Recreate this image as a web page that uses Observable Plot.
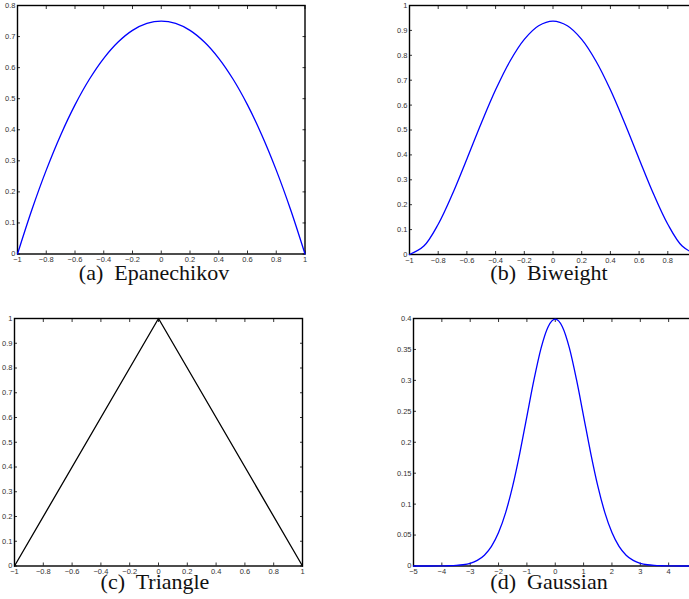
<!DOCTYPE html>
<html><head><meta charset="utf-8">
<script src="https://cdn.jsdelivr.net/npm/d3@7"></script>
<script src="https://cdn.jsdelivr.net/npm/@observablehq/plot@0.6"></script>
<style>
html,body{margin:0;padding:0;background:#fff;overflow:hidden;}
#root{position:relative;width:720px;height:599px;overflow:hidden;}
.panel{position:absolute;}
.panel svg{max-width:none;display:block;}
.title{position:absolute;font-family:'Liberation Serif','Times New Roman',Times,'DejaVu Serif',serif;font-size:22px;line-height:1;color:#111;white-space:pre;transform:translateX(-50%);}
</style></head><body><div id="root"></div>
<script>
// ---- data ----
const epanX = [-1,-0.9,-0.8,-0.7,-0.6,-0.5,-0.4,-0.3,-0.2,-0.1,0,0.1,0.2,0.3,0.4,0.5,0.6,0.7,0.8,0.9,1];
const epanY = [0,0.1425,0.27,0.3825,0.48,0.5625,0.63,0.6825,0.72,0.7425,0.75,0.7425,0.72,0.6825,0.63,0.5625,0.48,0.3825,0.27,0.1425,0];

const biwX = [-1,-0.9,-0.8,-0.7,-0.6,-0.5,-0.4,-0.3,-0.2,-0.1,0,0.1,0.2,0.3,0.4,0.5,0.6,0.7,0.8,0.9,1];
const biwY = [0,0.0338,0.1215,0.2438,0.384,0.5273,0.6615,0.7763,0.864,0.9188,0.9375,0.9188,0.864,0.7763,0.6615,0.5273,0.384,0.2438,0.1215,0.0338,0];

const triX = [-1,0,1];
const triY = [0,1,0];

const gauX = [-5,-4.5,-4,-3.75,-3.5,-3.25,-3,-2.75,-2.5,-2.25,-2,-1.75,-1.5,-1.25,-1,-0.75,-0.5,-0.25,0,0.25,0.5,0.75,1,1.25,1.5,1.75,2,2.25,2.5,2.75,3,3.25,3.5,3.75,4,4.5,5];
const gauY = [0,0,0.0001,0.0004,0.0009,0.002,0.0044,0.0091,0.0175,0.0317,0.054,0.0863,0.1295,0.1826,0.242,0.3011,0.3521,0.3867,0.3989,0.3867,0.3521,0.3011,0.242,0.1826,0.1295,0.0863,0.054,0.0317,0.0175,0.0091,0.0044,0.002,0.0009,0.0004,0.0001,0,0];

const ticksUnit = [-1,-0.8,-0.6,-0.4,-0.2,0,0.2,0.4,0.6,0.8,1];
const ticksGauX = [-5,-4,-3,-2,-1,0,1,2,3,4,5];
const ticksY08 = [0,0.1,0.2,0.3,0.4,0.5,0.6,0.7,0.8];
const ticksY1 = [0,0.1,0.2,0.3,0.4,0.5,0.6,0.7,0.8,0.9,1];
const ticksY04 = [0,0.05,0.1,0.15,0.2,0.25,0.3,0.35,0.4];

const titles = ["(a)  Epanechikov","(b)  Biweight","(c)  Triangle","(d)  Gaussian"];

// ---- layout ----
const root = document.getElementById("root");
const fmt = d3.format("");
const mL = 30, mR = 15, mT = 8, mB = 22;

function panel(o){
  const w = o.fr - o.fl, h = o.fb - o.ft;
  const chart = Plot.plot({
    width: w + mL + mR, height: h + mT + mB,
    marginLeft: mL, marginRight: mR, marginTop: mT, marginBottom: mB,
    x: {domain: o.xd}, y: {domain: o.yd},
    style: {background: "transparent"},
    marks: [
      Plot.axisX(o.xt, {anchor: "bottom", tickSize: -3, tickFormat: () => "", label: null, strokeWidth: 0.8}),
      Plot.axisX(o.xt, {anchor: "top", tickSize: -3, tickFormat: () => "", label: null, strokeWidth: 0.8}),
      Plot.axisY(o.yt, {anchor: "left", tickSize: -3, tickFormat: () => "", label: null, strokeWidth: 0.8}),
      Plot.axisY(o.yt, {anchor: "right", tickSize: -3, tickFormat: () => "", label: null, strokeWidth: 0.8}),
      Plot.axisX(o.xt, {anchor: "bottom", tickSize: 0, tickPadding: 3, tickFormat: fmt, label: null, fontSize: 7.5, fill: "#333", fontFamily: "Liberation Sans, Arial, sans-serif"}),
      Plot.axisY(o.yt, {anchor: "left", tickSize: 0, tickPadding: 2, tickFormat: fmt, label: null, fontSize: 7.5, fill: "#333", fontFamily: "Liberation Sans, Arial, sans-serif"}),
      Plot.frame({stroke: "#000", strokeWidth: 1.4}),
      Plot.line(o.ys, {x: o.xs, y: o.ys, stroke: o.color, strokeWidth: 1.3, curve: o.curve})
    ]
  });
  const div = document.createElement("div");
  div.className = "panel";
  div.style.left = (o.fl - mL) + "px";
  div.style.top = (o.ft - mT) + "px";
  div.appendChild(chart);
  root.appendChild(div);
  const t = document.createElement("div");
  t.className = "title";
  t.textContent = o.title;
  t.style.left = o.tx + "px";
  t.style.top = o.ty + "px";
  root.appendChild(t);
}

panel({fl:16.5, fr:304, ft:5, fb:253.5, xd:[-1,1], yd:[0,0.8], xt:ticksUnit, yt:ticksY08, xs:epanX, ys:epanY, color:"#0000ff", curve:"catmull-rom", title:titles[0], tx:154, ty:262});
panel({fl:409, fr:696, ft:5, fb:254, xd:[-1,1], yd:[0,1], xt:ticksUnit, yt:ticksY1, xs:biwX, ys:biwY, color:"#0000ff", curve:"catmull-rom", title:titles[1], tx:549, ty:262});
panel({fl:14, fr:302, ft:317.5, fb:565, xd:[-1,1], yd:[0,1], xt:ticksUnit, yt:ticksY1, xs:triX, ys:triY, color:"#000000", curve:"linear", title:titles[2], tx:155, ty:571});
panel({fl:412.5, fr:696, ft:317.5, fb:565, xd:[-5,5], yd:[0,0.4], xt:ticksGauX, yt:ticksY04, xs:gauX, ys:gauY, color:"#0000ff", curve:"monotone-x", title:titles[3], tx:549, ty:571});
</script>
</body></html>
